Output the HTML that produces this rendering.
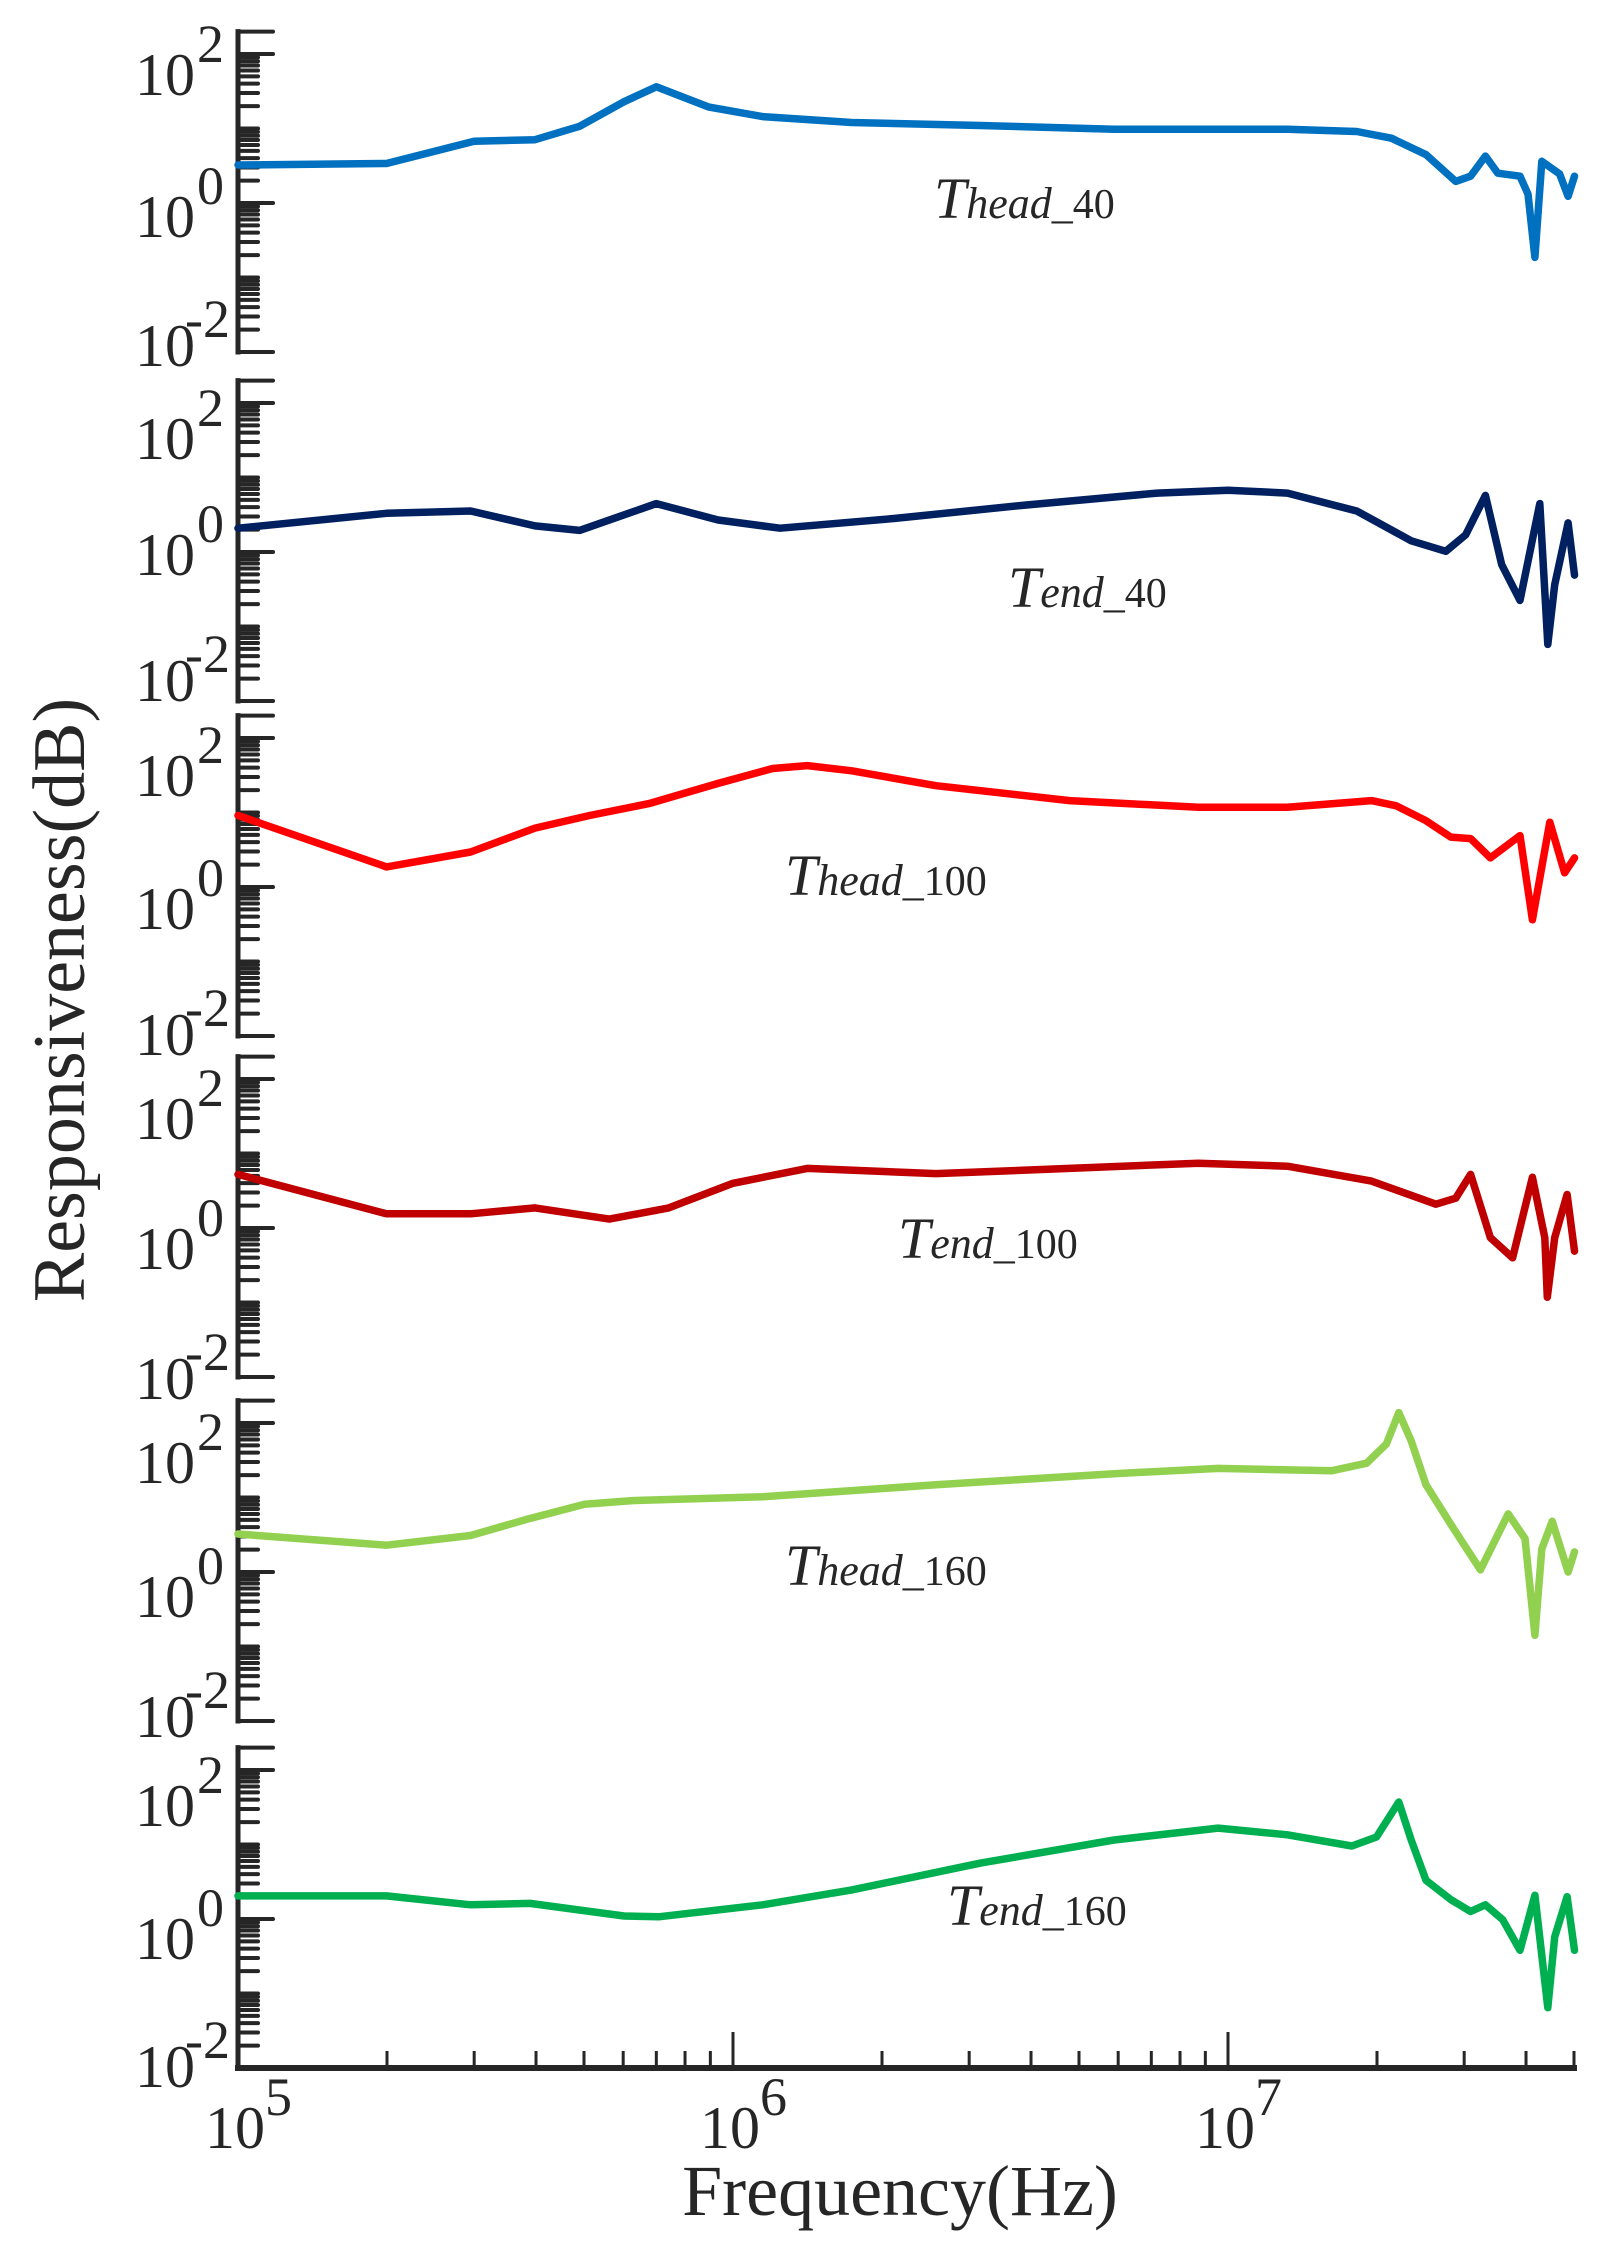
<!DOCTYPE html>
<html><head><meta charset="utf-8"><style>
html,body{margin:0;padding:0;background:#fff;}
svg{display:block;}
text{font-family:"Liberation Serif","Times New Roman",serif;fill:#262626;}
</style></head><body>
<svg id="chart" width="1610" height="2259" viewBox="0 0 1610 2259" xmlns="http://www.w3.org/2000/svg">
<g id="axes"></g>
<g id="series"></g>
<g id="labels"></g>
<text transform="translate(84,1000) rotate(-90)" text-anchor="middle" font-size="74">Responsiveness(dB)</text>
<text x="900" y="2215" text-anchor="middle" font-size="72">Frequency(Hz)</text>
</svg>
<script>
// x: log10 frequency (Hz); y: log10 response
const logF1 = [5.0,5.30,5.477,5.6,5.69,5.78,5.845,5.95,6.06,6.24,6.50,6.77,7.12,7.26,7.33,7.40,7.46,7.49,7.52,7.545,7.59,7.606,7.62,7.634,7.67,7.687,7.70];
const logR1 = [0.51,0.53,0.83,0.85,1.03,1.36,1.56,1.29,1.16,1.08,1.04,0.99,0.99,0.96,0.87,0.65,0.29,0.36,0.63,0.40,0.36,0.12,-0.73,0.56,0.39,0.09,0.36];
const logF2 = [5.0,5.30,5.47,5.60,5.69,5.845,5.97,6.095,6.325,6.59,6.857,7.0,7.12,7.26,7.37,7.44,7.48,7.52,7.553,7.59,7.63,7.646,7.66,7.687,7.70];
const logR2 = [0.32,0.52,0.55,0.35,0.29,0.65,0.43,0.32,0.45,0.63,0.79,0.83,0.79,0.55,0.15,0.01,0.23,0.76,-0.17,-0.65,0.65,-1.24,-0.44,0.39,-0.31];
const logF3 = [5.0,5.30,5.47,5.60,5.71,5.83,5.97,6.08,6.15,6.24,6.41,6.68,6.94,7.12,7.29,7.34,7.40,7.45,7.49,7.53,7.59,7.615,7.65,7.68,7.70];
const logR3 = [0.96,0.27,0.47,0.79,0.96,1.12,1.39,1.59,1.63,1.56,1.36,1.16,1.07,1.07,1.16,1.09,0.89,0.67,0.65,0.39,0.69,-0.44,0.87,0.19,0.39];
const logF4 = [5.0,5.30,5.47,5.60,5.75,5.87,6.0,6.15,6.41,6.68,6.94,7.12,7.29,7.42,7.46,7.49,7.53,7.575,7.615,7.64,7.645,7.66,7.685,7.70];
const logR4 = [0.72,0.19,0.19,0.27,0.12,0.27,0.60,0.80,0.73,0.80,0.87,0.83,0.63,0.32,0.40,0.72,-0.13,-0.40,0.68,-0.13,-0.93,-0.13,0.45,-0.31];
const logF5 = [5.0,5.30,5.47,5.58,5.70,5.80,6.06,6.41,6.77,6.98,7.21,7.28,7.32,7.345,7.37,7.40,7.45,7.51,7.545,7.566,7.60,7.62,7.634,7.655,7.687,7.70];
const logR5 = [0.51,0.36,0.49,0.70,0.91,0.96,1.01,1.17,1.32,1.39,1.36,1.46,1.72,2.14,1.76,1.17,0.64,0.03,0.50,0.78,0.45,-0.85,0.31,0.68,0.0,0.27];
const logF6 = [5.0,5.30,5.47,5.59,5.78,5.85,6.06,6.24,6.50,6.77,6.98,7.12,7.25,7.30,7.345,7.37,7.40,7.45,7.49,7.52,7.555,7.59,7.62,7.646,7.66,7.685,7.70];
const logR6 = [0.31,0.31,0.19,0.21,0.04,0.03,0.19,0.39,0.75,1.06,1.22,1.13,0.98,1.10,1.57,1.06,0.52,0.26,0.10,0.19,-0.01,-0.42,0.32,-1.19,-0.24,0.30,-0.42];
const seriesNames = ["Thead_40","Tend_40","Thead_100","Tend_100","Thead_160","Tend_160"];
const yTickExps = [-2,0,2];
const xTickExps = [5,6,7];

const NS="http://www.w3.org/2000/svg";
const X0=238, DEC_X=495, LOGXMIN=5, LOGXMAX=Math.log10(5e7);
const DEC_Y=74.5;
const bottoms=[352,701,1036,1377,1721,2068];
const colors=["#0070C0","#002060","#FF0000","#C00000","#92D050","#00B050"];
const subs=[["head","_40"],["end","_40"],["head","_100"],["end","_100"],["head","_160"],["end","_160"]];
const annPos=[[934,218],[1008,607],[785,895],[898,1258],[785,1585],[947,1925]];
const labOff=[[14,-115,-257],[0,-126,-242],[19,-107,-240],[22,-108,-238],[16,-104,-238],[19,-109,-242]];
const LF=[logF1,logF2,logF3,logF4,logF5,logF6], LR=[logR1,logR2,logR3,logR4,logR5,logR6];
function xs(lf){return X0+(lf-LOGXMIN)*DEC_X;}
function ys(p,lr){return bottoms[p]-(lr+2)*DEC_Y;}
function mk(tag,attrs,parent){const e=document.createElementNS(NS,tag);for(const k in attrs)e.setAttribute(k,attrs[k]);parent.appendChild(e);return e;}
const axes=document.getElementById('axes'), ser=document.getElementById('series'), labs=document.getElementById('labels');
const AX="#262626";
for(let p=0;p<6;p++){
  const b=bottoms[p], top=ys(p,Math.log10(200));
  const ax=mk('line',{x1:X0,y1:top,x2:X0,y2:b,stroke:AX,'stroke-width':5,'stroke-linecap':'square'},axes);
  
  
  for(let d=-2;d<=2;d++){
    for(let m=1;m<=9;m++){
      const lv=d+Math.log10(m);
      if(lv>Math.log10(200)+1e-6)continue;
      const major=(m===1&&d%2===0)||(d===2&&m===2);
      const y=ys(p,lv);
      const t=mk('line',{x1:X0,y1:y,x2:X0+(major?35:20),y2:y,stroke:AX,'stroke-width':4,'stroke-linecap':'round'},axes);
      
      
    }
  }
  yTickExps.forEach((e,i)=>{
    const tx=mk('text',{x:135,y:b+labOff[p][i],'font-size':60},labs);
    
    
    tx.appendChild(document.createTextNode('10'));
    const sp=mk('tspan',{dy:(e<0?-29:-33),dx:(e<0?-10:2),'font-size':54},tx);
    sp.textContent=(e<0?'-':'')+Math.abs(e);
  });
  let d='';
  LF[p].forEach((f,i)=>{d+=(i?'L':'M')+xs(f).toFixed(1)+','+ys(p,LR[p][i]).toFixed(1);});
  const path=mk('path',{d:d,fill:'none',stroke:colors[p],'stroke-width':7.5,'stroke-linejoin':'round','stroke-linecap':'round'},ser);
  
  
  const an=mk('text',{x:annPos[p][0],y:annPos[p][1]},labs);
  
  
  const t1=mk('tspan',{'font-size':58,'font-style':'italic'},an); t1.textContent='T';
  const t2=mk('tspan',{'font-size':44,'font-style':'italic'},an); t2.textContent=subs[p][0];
  const t3=mk('tspan',{'font-size':42},an); t3.textContent=subs[p][1];
}
const B=bottoms[5];
const xa=mk('line',{x1:X0,y1:B,x2:xs(LOGXMAX),y2:B,stroke:AX,'stroke-width':6,'stroke-linecap':'square'},axes);


for(let d=5;d<=7;d++){
  for(let m=1;m<=9;m++){
    const lv=d+Math.log10(m);
    if(lv>LOGXMAX+1e-6)continue;
    const x=xs(lv);
    const t=mk('line',{x1:x,y1:B,x2:x,y2:B-(m===1?36:17),stroke:AX,'stroke-width':3},axes);
    
    
  }
}
xTickExps.forEach(e=>{
  const tx=mk('text',{x:xs(e)-33,y:2148,'font-size':60},labs);
  
  
  tx.appendChild(document.createTextNode('10'));
  const sp=mk('tspan',{dy:-33,'font-size':54},tx);
  sp.textContent=String(e);
});
</script>
</body></html>
